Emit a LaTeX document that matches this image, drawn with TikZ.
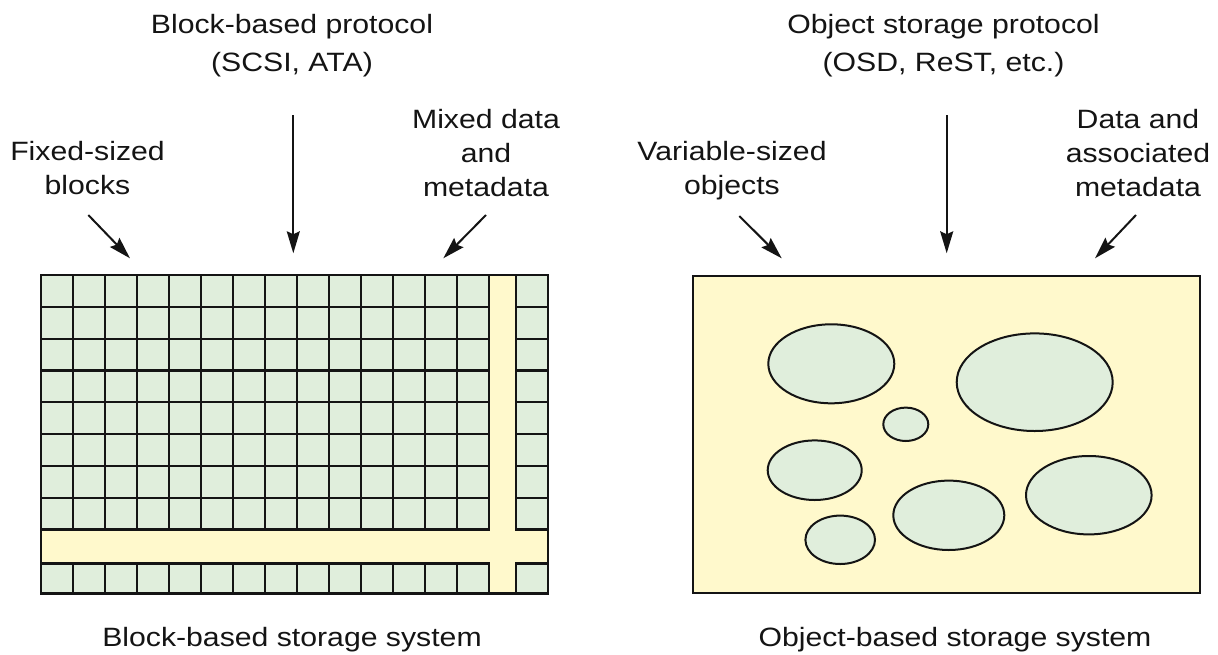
\documentclass[tikz,border=0pt]{standalone}
\usepackage{fontspec}
\setmainfont{Liberation Sans}[FakeStretch=1.14]
\usetikzlibrary{arrows.meta,shapes.geometric}
\definecolor{cellgreen}{RGB}{224,238,220}
\definecolor{stripyellow}{RGB}{255,249,204}
\definecolor{inkc}{RGB}{20,20,20}
\begin{document}
\begin{tikzpicture}[x=1pt,y=-1pt,
  lbl/.style={font=\fontsize{26.5}{34}\selectfont, text=inkc, align=center, inner sep=0pt, anchor=base},
  arr/.style={-{Stealth[length=22pt,width=13pt,inset=3pt]}, line width=2pt, draw=inkc},
  gridline/.style={line width=2.2pt, draw=inkc, line cap=rect},
  blob/.style={ellipse, draw=inkc, line width=2pt, fill=cellgreen, inner sep=0pt}
]
\useasboundingbox (0,0) rectangle (1218,654);

% ---------- left: block-based storage ----------
\fill[cellgreen] (41,275) rectangle (548,593.4);
\fill[stripyellow] (489,275) rectangle (516,593.4);
\fill[stripyellow] (41,529.4) rectangle (548,563.4);
\foreach \k in {1,...,14}{
  \draw[gridline] ({41+32*\k},275) -- ({41+32*\k},529.4);
  \draw[gridline] ({41+32*\k},563.4) -- ({41+32*\k},593.4);
}
\draw[gridline] (516,275) -- (516,529.4);
\draw[gridline] (516,563.4) -- (516,593.4);
\foreach \j in {1,...,8}{
  \draw[gridline] (41,{275+31.8*\j}) -- (489,{275+31.8*\j});
  \draw[gridline] (516,{275+31.8*\j}) -- (548,{275+31.8*\j});
}
\draw[gridline] (41,563.4) -- (489,563.4);
\draw[gridline] (516,563.4) -- (548,563.4);
\draw[line width=2.2pt, draw=inkc] (41,275) rectangle (548,593.4);

\node[lbl] (btitle) at (292,71.7) {Block-based protocol\\[4.4pt](SCSI, ATA)};
\node[lbl] (bfixed) at (87.5,194.7) {Fixed-sized\\blocks};
\node[lbl] (bmixed) at (486,196) {Mixed data\\and\\metadata};
\node[lbl] (bcap) at (292,646) {Block-based storage system};

\coordinate (bp0) at (293.3,115);   \coordinate (bp1) at (293.3,253.3);
\coordinate (bf0) at (88.3,215);    \coordinate (bf1) at (130,258.3);
\coordinate (bm0) at (486,215);     \coordinate (bm1) at (443.3,258.3);
\draw[arr] (bp0) -- (bp1);
\draw[arr] (bf0) -- (bf1);
\draw[arr] (bm0) -- (bm1);

% ---------- right: object-based storage ----------
\draw[line width=2.2pt, draw=inkc, fill=stripyellow] (692.7,275.7) rectangle (1200,593.3);

\node[blob, minimum width=126pt, minimum height=79pt]   (o1) at (831.3,363.8) {};
\node[blob, minimum width=156pt, minimum height=97.6pt] (o2) at (1034.7,382.2) {};
\node[blob, minimum width=45pt,  minimum height=33.4pt] (o3) at (905.8,424.3) {};
\node[blob, minimum width=94pt,  minimum height=59.6pt] (o4) at (814.7,470.2) {};
\node[blob, minimum width=111pt, minimum height=69.4pt] (o5) at (948.8,515.3) {};
\node[blob, minimum width=125.6pt, minimum height=78.4pt] (o6) at (1088.8,495.2) {};
\node[blob, minimum width=69.6pt, minimum height=48.4pt] (o7) at (840.2,539.8) {};

\node[lbl] (otitle) at (943.5,71.7) {Object storage protocol\\[4.4pt](OSD, ReST, etc.)};
\node[lbl] (ovar) at (732,194.7) {Variable-sized\\objects};
\node[lbl] (odata) at (1138,196) {Data and\\associated\\metadata};
\node[lbl] (ocap) at (955,646) {Object-based storage system};

\coordinate (op0) at (946.7,115);   \coordinate (op1) at (946.7,253.3);
\coordinate (ov0) at (739.3,216);   \coordinate (ov1) at (781.7,258.3);
\coordinate (od0) at (1136,215);    \coordinate (od1) at (1095,258.3);
\draw[arr] (op0) -- (op1);
\draw[arr] (ov0) -- (ov1);
\draw[arr] (od0) -- (od1);
\end{tikzpicture}
\end{document}
